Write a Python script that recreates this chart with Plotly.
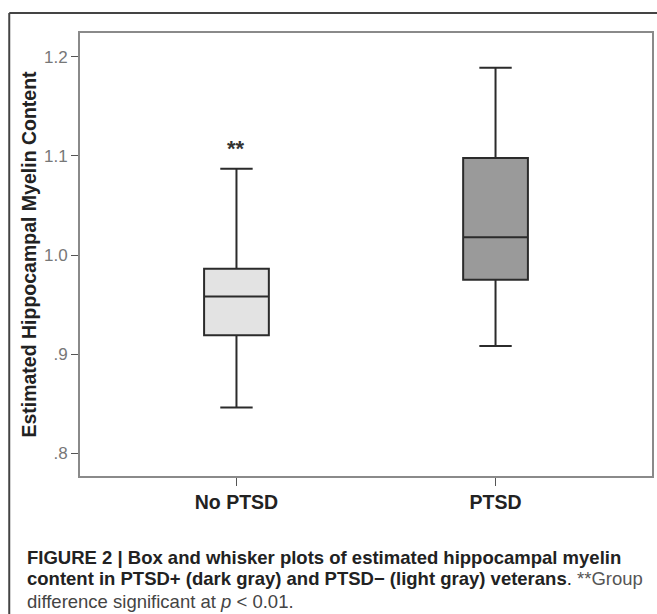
import plotly.graph_objects as go

# ---- data ----
groups = ["No PTSD", "PTSD"]
lower_fence = [0.846, 0.908]
q1 = [0.919, 0.975]
median = [0.958, 1.018]
q3 = [0.986, 1.098]
upper_fence = [1.087, 1.189]
fill_colors = ["#e3e3e3", "#9a9a9a"]
y_tick_vals = [0.8, 0.9, 1.0, 1.1, 1.2]
y_tick_text = [".8", ".9", "1.0", "1.1", "1.2"]
y_title = "Estimated Hippocampal Myelin Content"
signif_group = "No PTSD"
signif_mark = "**"

W, H = 657, 614
L, R, T, B = 80, 3, 33, 138
pw, ph = W - L - R, H - T - B

def px_x(px):
    return (px - L) / pw

def px_y(py):
    return (H - B - py) / ph

fig = go.Figure()
for i, g in enumerate(groups):
    fig.add_trace(go.Box(
        x=[g],
        q1=[q1[i]], median=[median[i]], q3=[q3[i]],
        lowerfence=[lower_fence[i]], upperfence=[upper_fence[i]],
        fillcolor=fill_colors[i],
        line=dict(color="#2b2b2b", width=2),
        width=0.25,
        whiskerwidth=0.5,
        boxpoints=False,
        hoverinfo="skip",
        showlegend=False,
    ))

fig.add_annotation(
    x=signif_group, y=upper_fence[groups.index(signif_group)],
    text="<b>" + signif_mark + "</b>", showarrow=False,
    yshift=20, font=dict(family="Liberation Sans", size=22, color="#333"),
    xref="x", yref="y",
)

# caption
cap_font = dict(family="Liberation Sans", size=18.5, color="#222")
captions = [
    "<b>FIGURE 2 | Box and whisker plots of estimated hippocampal myelin</b>",
    "<b>content in PTSD+ (dark gray) and PTSD\u2212 (light gray) veterans</b>. <span style='color:#555'>**Group</span>",
    "<span style='color:#444'>difference significant at <i>p</i> &lt; 0.01.</span>",
]
cap_y = [557, 578, 601]
for txt, cy in zip(captions, cap_y):
    fig.add_annotation(
        x=px_x(25), y=px_y(cy), xref="paper", yref="paper",
        text=txt, showarrow=False, xanchor="left", yanchor="middle",
        font=cap_font, align="left",
    )

# outer frame (top and left edges)
fig.add_shape(type="line", xref="paper", yref="paper",
              x0=px_x(9), y0=px_y(H + 5), x1=px_x(9), y1=px_y(13),
              line=dict(color="#444", width=2))
fig.add_shape(type="line", xref="paper", yref="paper",
              x0=px_x(9), y0=px_y(13), x1=px_x(W + 5), y1=px_y(13),
              line=dict(color="#444", width=2))

fig.update_layout(
    width=W, height=H,
    margin=dict(l=L, r=R, t=T, b=B),
    paper_bgcolor="white", plot_bgcolor="white",
    font=dict(family="Liberation Sans"),
)
fig.update_xaxes(
    type="category", range=[-0.604, 1.604],
    showline=True, linecolor="#8a8a8a", linewidth=2, mirror=True,
    ticks="outside", ticklen=8, tickcolor="#555", tickwidth=1,
    tickfont=dict(family="Liberation Sans", size=19.5, color="#222"),
    tickprefix="<b>", ticksuffix="</b>",
    showgrid=False, zeroline=False,
)
fig.update_yaxes(
    range=[0.7768, 1.2242],
    tickvals=y_tick_vals, ticktext=y_tick_text,
    showline=True, linecolor="#8a8a8a", linewidth=2, mirror=True,
    ticks="outside", ticklen=7, tickcolor="#555", tickwidth=1,
    tickfont=dict(family="Liberation Sans", size=17, color="#777"),
    title=dict(text="<b>" + y_title + "</b>", standoff=2,
               font=dict(family="Liberation Sans", size=19.5, color="#222")),
    showgrid=False, zeroline=False,
)

fig.write_html("out.html", config={"displayModeBar": False},
               post_script="document.body.style.margin='0';")
